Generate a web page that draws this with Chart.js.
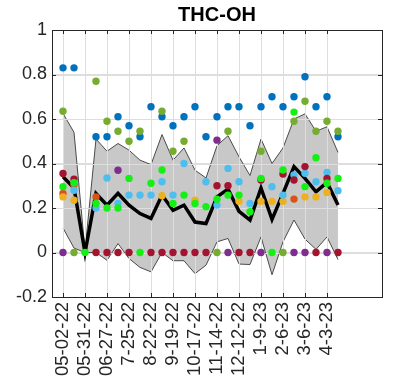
<!DOCTYPE html>
<html lang="en">
<head>
<meta charset="UTF-8">
<title>THC-OH</title>
<script src="https://cdn.jsdelivr.net/npm/chart.js"></script>
<style>
  html, body { margin: 0; padding: 0; background: #fff; }
</style>
</head>
<body>
<canvas id="chart" width="398" height="390"></canvas>
<script>
// sample number (x position) of each collection date
const samples = [0, 1, 2, 3, 4, 5, 6, 7, 8, 9, 10, 11, 12, 13, 14, 15, 16, 17, 18, 19, 20, 21, 22, 23, 24, 25];
// labelled samples and their dates
const tickSamples = [0, 2, 4, 6, 8, 10, 12, 14, 16, 18, 20, 22, 24];
const tickLabels = ['05-02-22', '05-31-22', '06-27-22', '7-25-22', '8-22-22', '9-19-22', '10-17-22',
                    '11-14-22', '12-12-22', '1-9-23', '2-6-23', '3-6-23', '4-3-23'];

// individual sites
const blue        = [0.83, 0.83, null, 0.52, 0.52, 0.61, 0.57, 0.52, 0.655, 0.61, 0.57, 0.61, 0.655, 0.52, 0.61, 0.655, 0.655, 0.57, 0.655, 0.70, 0.655, 0.70, 0.79, 0.655, 0.70, 0.52];
const orangeRed   = [0.265, 0.305, null, 0.25, null, null, null, null, null, null, null, null, null, null, null, null, null, null, null, null, null, 0.24, null, null, null, null];
const yellow      = [0.25, 0.235, null, null, null, null, null, null, null, 0.255, null, null, 0.235, null, null, null, 0.23, null, 0.23, 0.23, 0.23, null, 0.25, 0.25, 0.27, null];
const purple      = [0, null, null, null, null, 0.37, null, null, null, null, null, null, null, null, 0.505, 0, null, null, 0, null, null, 0, 0, null, 0, null];
const olive       = [0.635, 0, null, 0.77, 0.59, 0.545, 0.50, 0.545, null, 0.635, 0.455, 0.50, null, null, 0, 0.545, null, null, 0.455, null, 0, 0.59, 0.68, 0.545, 0.59, 0.545];
const lightBlue   = [null, 0.28, null, 0.20, 0.335, 0.22, 0.258, 0.258, 0.258, 0.318, 0.258, 0.40, null, 0.318, 0.213, 0.378, 0.318, 0.22, null, 0.296, 0.258, 0.348, 0.356, 0.318, 0.36, 0.278];
const darkRed     = [0.355, 0.33, null, 0, 0, 0, 0, null, 0, 0, 0, 0, 0, 0, 0.30, 0.30, 0, 0, 0.326, null, 0.353, 0.326, 0.386, 0, 0.333, 0];
const brightGreen = [0.296, 0.314, 0, 0.22, 0.20, 0.20, 0.333, 0, 0.311, 0.371, 0.22, 0.258, 0.22, 0.206, 0.239, 0.258, 0.258, 0.183, 0.333, 0, 0.371, 0.631, 0.296, 0.426, 0.311, 0.333];

// median and the shaded range
const median = [0.34, 0.29, 0.0, 0.265, 0.213, 0.266, 0.213, 0.175, 0.153, 0.258, 0.19, 0.213, 0.137, 0.13, 0.25, 0.285, 0.185, 0.146, 0.29, 0.149, 0.266, 0.386, 0.333, 0.273, 0.315, 0.213];
const upper  = [0.625, 0.54, 0.01, 0.51, 0.455, 0.49, 0.46, 0.415, 0.395, 0.53, 0.415, 0.47, 0.37, 0.335, 0.48, 0.525, 0.43, 0.346, 0.51, 0.40, 0.47, 0.60, 0.623, 0.545, 0.565, 0.45];
const lower  = [0.11, 0.02, 0.0, 0.0, -0.035, 0.04, -0.027, -0.067, -0.087, 0.0, -0.037, -0.037, -0.095, -0.057, 0.048, 0.063, -0.052, -0.054, 0.07, -0.10, 0.048, 0.146, 0.06, 0.014, 0.07, -0.032];

const FONT = '"Liberation Sans", Arial, Helvetica, sans-serif';
const GRID = '#dedede';
const AXIS = '#262626';

function xy(values) {
    return samples.map((s, i) => ({ x: s, y: values[i] }));
}

function dots(values, color, order) {
    return {
        data: xy(values),
        showLine: false,
        pointRadius: 3.7,
        pointHoverRadius: 3.7,
        pointBackgroundColor: color,
        pointBorderWidth: 0,
        borderColor: color,
        order: order
    };
}

// grid lines sit on top of the grey band in the original, so redraw them just before the median
const gridOverBand = {
    id: 'gridOverBand',
    beforeDatasetDraw(chart, args) {
        if (chart.data.datasets[args.index].label !== 'Median') return;
        const ctx = chart.ctx, a = chart.chartArea;
        const xs = chart.scales.x, ys = chart.scales.y;
        ctx.save();
        ctx.strokeStyle = GRID;
        ctx.lineWidth = 1;
        ctx.beginPath();
        xs.ticks.forEach(t => {
            const px = Math.round(xs.getPixelForValue(t.value)) + 0.5;
            ctx.moveTo(px, a.top); ctx.lineTo(px, a.bottom);
        });
        ys.ticks.forEach(t => {
            const py = Math.round(ys.getPixelForValue(t.value)) + 0.5;
            ctx.moveTo(a.left, py); ctx.lineTo(a.right, py);
        });
        ctx.stroke();
        ctx.restore();
    }
};

// box around the axes with inward tick marks
const axesBox = {
    id: 'axesBox',
    afterDraw(chart) {
        const ctx = chart.ctx, a = chart.chartArea;
        const xs = chart.scales.x, ys = chart.scales.y;
        const len = 4;
        ctx.save();
        ctx.strokeStyle = AXIS;
        ctx.lineWidth = 1;
        ctx.strokeRect(Math.round(a.left) + 0.5, Math.round(a.top) + 0.5,
                       Math.round(a.right - a.left), Math.round(a.bottom - a.top));
        ctx.beginPath();
        xs.ticks.forEach(t => {
            const px = Math.round(xs.getPixelForValue(t.value)) + 0.5;
            ctx.moveTo(px, a.bottom); ctx.lineTo(px, a.bottom - len);
            ctx.moveTo(px, a.top); ctx.lineTo(px, a.top + len);
        });
        ys.ticks.forEach(t => {
            const py = Math.round(ys.getPixelForValue(t.value)) + 0.5;
            ctx.moveTo(a.left, py); ctx.lineTo(a.left + len, py);
            ctx.moveTo(a.right, py); ctx.lineTo(a.right - len, py);
        });
        ctx.stroke();
        ctx.restore();
    }
};

new Chart(document.getElementById('chart').getContext('2d'), {
    type: 'line',
    data: {
        datasets: [
            { label: 'Upper', data: xy(upper), borderColor: '#4a4a4a', borderWidth: 1,
              backgroundColor: '#c8c8c8', fill: '+1', pointRadius: 0, tension: 0, order: 31 },
            { label: 'Lower', data: xy(lower), borderColor: '#4a4a4a', borderWidth: 1,
              fill: false, pointRadius: 0, tension: 0, order: 30 },
            { label: 'Median', data: xy(median), borderColor: '#000', borderWidth: 3.5,
              borderJoinStyle: 'miter', fill: false, pointRadius: 0, tension: 0, order: 20 },
            dots(blue, '#0072BD', 7),
            dots(orangeRed, '#D95319', 6),
            dots(yellow, '#EDB120', 5),
            dots(purple, '#7E2F8E', 4),
            dots(olive, '#77AC30', 3),
            dots(lightBlue, '#4DBEEE', 2),
            dots(darkRed, '#A2142F', 1),
            dots(brightGreen, '#14F014', 0)
        ]
    },
    options: {
        responsive: false,
        animation: false,
        devicePixelRatio: 1,
        layout: { padding: { left: 0, right: 16, top: 0, bottom: 0 } },
        plugins: {
            legend: { display: false },
            tooltip: { enabled: false },
            title: {
                display: true,
                text: 'THC-OH',
                fullSize: false,
                color: '#000',
                font: { family: FONT, size: 20, weight: 'bold', lineHeight: 1.2 },
                padding: { top: 3, bottom: 3 }
            }
        },
        scales: {
            x: {
                type: 'linear',
                min: -1,
                max: 29,
                afterBuildTicks(scale) {
                    scale.ticks = tickSamples.map(v => ({ value: v }));
                },
                afterFit(scale) { scale.height = 93; },
                ticks: {
                    autoSkip: false,
                    minRotation: 90,
                    maxRotation: 90,
                    padding: 5,
                    color: AXIS,
                    font: { family: FONT, size: 18.5 },
                    callback: v => tickLabels[tickSamples.indexOf(v)]
                },
                grid: { color: GRID, drawTicks: false },
                border: { display: false }
            },
            y: {
                min: -0.2,
                max: 1,
                afterFit(scale) { scale.width = 52; },
                ticks: {
                    stepSize: 0.2,
                    padding: 5,
                    color: AXIS,
                    font: { family: FONT, size: 18 },
                    callback: v => String(Math.round(v * 10) / 10)
                },
                grid: { color: GRID, drawTicks: false },
                border: { display: false }
            }
        }
    },
    plugins: [gridOverBand, axesBox]
});
</script>
</body>
</html>
